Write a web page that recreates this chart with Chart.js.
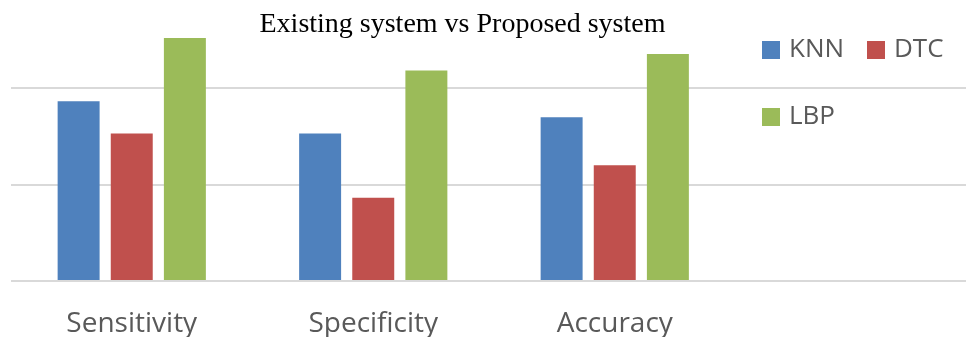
<!DOCTYPE html>
<html>
<head>
<meta charset="utf-8">
<script src="https://cdn.jsdelivr.net/npm/chart.js@4/dist/chart.umd.min.js"></script>
<style>
    html, body { margin: 0; padding: 0; background: #fff; overflow: hidden; }
    #wrap { width: 966px; height: 337px; overflow: hidden; position: relative; }
    canvas { display: block; }
</style>
</head>
<body>
<div id="wrap"><canvas id="chart" width="977" height="364"></canvas></div>
<script>
const categories = ['Sensitivity', 'Specificity', 'Accuracy', ''];
const knnValues = [37.3, 30.6, 34.0, null];
const dtcValues = [30.6, 17.3, 24.0, null];
const lbpValues = [50.4, 43.7, 47.1, null];
const seriesNames = ['KNN', 'DTC', 'LBP'];
const seriesColors = ['#4F81BD', '#C0504D', '#9BBB59'];
const chartTitle = 'Existing system vs Proposed system';

// title + legend sit on top of the plot like in the original
const overlayPlugin = {
    id: 'overlay',
    afterDraw(chart) {
        const ctx = chart.ctx;
        ctx.save();
        ctx.fillStyle = '#000';
        ctx.font = '28px "Liberation Serif", "Times New Roman", serif';
        ctx.textAlign = 'center';
        ctx.textBaseline = 'alphabetic';
        ctx.fillText(chartTitle, 462.5, 32);

        const spots = [[762, 41], [867, 41], [762, 108]];
        ctx.font = '26px "Open Sans", sans-serif';
        ctx.textAlign = 'left';
        ctx.textBaseline = 'middle';
        seriesNames.forEach((name, i) => {
            const [x, y] = spots[i];
            ctx.fillStyle = seriesColors[i];
            ctx.fillRect(x, y, 18, 18);
            ctx.fillStyle = '#595959';
            ctx.fillText(name, x + 27, y + 9);
        });
        ctx.restore();
    }
};

new Chart(document.getElementById('chart').getContext('2d'), {
    type: 'bar',
    data: {
        labels: categories,
        datasets: [
            { label: seriesNames[0], data: knnValues, backgroundColor: seriesColors[0] },
            { label: seriesNames[1], data: dtcValues, backgroundColor: seriesColors[1] },
            { label: seriesNames[2], data: lbpValues, backgroundColor: seriesColors[2] }
        ]
    },
    options: {
        responsive: false,
        animation: false,
        categoryPercentage: 0.66,
        barPercentage: 0.79,
        layout: { padding: { left: 11, right: 0, top: 30.4, bottom: -2.6 } },
        plugins: {
            legend: { display: false },
            title: { display: false },
            tooltip: { enabled: false }
        },
        scales: {
            x: {
                grid: { display: false, drawTicks: false },
                border: { display: false },
                ticks: {
                    color: '#595959',
                    padding: 26,
                    font: { family: '"Open Sans", sans-serif', size: 28, lineHeight: 1.2 }
                }
            },
            y: {
                min: 0,
                max: 52,
                grid: { color: '#d9d9d9', lineWidth: 2, drawTicks: false },
                border: { display: false },
                ticks: { display: false, stepSize: 20, includeBounds: false }
            }
        }
    },
    plugins: [overlayPlugin]
});
</script>
</body>
</html>
